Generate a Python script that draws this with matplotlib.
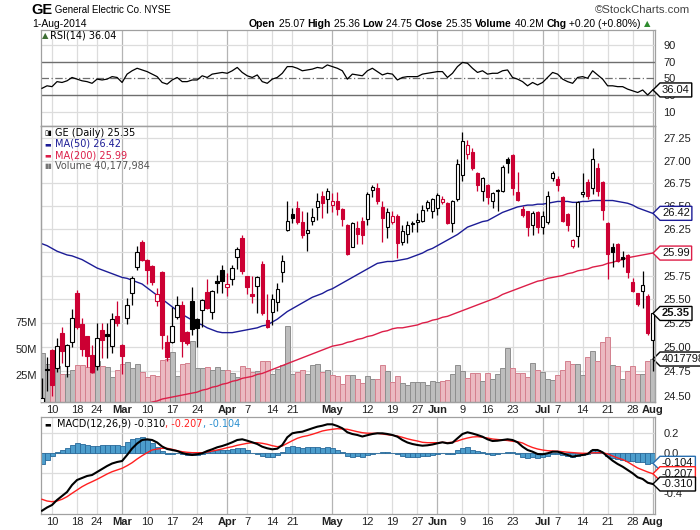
import matplotlib
matplotlib.use('Agg')
import matplotlib.pyplot as plt
import matplotlib.transforms as mtransforms
from matplotlib.path import Path
from matplotlib.ticker import FormatStrFormatter, NullLocator
import numpy as np
import pandas as pd

plt.rcParams['font.family'] = ['Liberation Sans', 'DejaVu Sans']

# trading days on the chart (6-Feb-2014 .. 1-Aug-2014)
holidays = ['2014-02-17', '2014-04-18', '2014-05-26', '2014-07-04']
days = pd.bdate_range('2014-02-06', '2014-08-01')
days = days[~days.isin(pd.to_datetime(holidays))]

opens = [24.30, 24.78, 24.97, 24.79, 25.15, 24.81, 25.05, 25.57, 25.24, 25.11,
         24.92, 24.81, 25.18, 25.14, 25.01, 25.32, 25.02, 25.30, 25.57, 25.84,
         26.11, 25.92, 25.85, 25.48, 25.79, 25.05, 25.05, 25.31, 25.44, 25.16,
         25.48, 25.29, 25.39, 25.58, 25.37, 25.69, 25.81, 25.63, 25.71, 25.95,
         26.15, 25.74, 25.55, 25.64, 25.87, 25.28, 25.37, 25.47, 25.79, 26.24,
         26.41, 26.48, 26.33, 26.21, 26.34, 26.49, 26.61, 26.58, 26.51, 26.56,
         26.47, 26.29, 26.06, 26.26, 26.34, 26.36, 26.68, 26.70, 26.49, 26.27,
         26.33, 26.39, 26.11, 26.20, 26.32, 26.33, 26.34, 26.48, 26.44, 26.48,
         26.54, 26.53, 26.32, 26.58, 26.84, 27.08, 27.10, 26.86, 26.66, 26.73,
         26.56, 26.68, 26.66, 27.02, 27.06, 26.65, 26.47, 26.44, 26.29, 26.43,
         26.27, 26.33, 26.81, 26.80, 26.60, 26.41, 26.07, 26.17, 26.63, 26.76,
         26.70, 26.92, 26.76, 26.32, 26.06, 26.09, 25.95, 25.97, 25.68, 25.56,
         25.59, 25.53, 25.07]
highs = [24.68, 24.90, 24.98, 25.09, 25.21, 25.03, 25.40, 25.60, 25.30, 25.12,
         25.02, 25.25, 25.25, 25.25, 25.35, 25.48, 25.03, 25.51, 25.75, 26.07,
         26.13, 25.93, 25.86, 25.62, 25.80, 25.13, 25.42, 25.53, 25.48, 25.17,
         25.63, 25.30, 25.50, 25.71, 25.60, 25.76, 25.86, 25.78, 25.86, 26.05,
         26.18, 25.75, 25.74, 25.75, 25.90, 25.55, 25.55, 25.67, 25.97, 26.55,
         26.48, 26.55, 26.44, 26.43, 26.48, 26.64, 26.67, 26.70, 26.64, 26.65,
         26.48, 26.30, 26.33, 26.34, 26.38, 26.65, 26.73, 26.75, 26.55, 26.48,
         26.45, 26.41, 26.29, 26.34, 26.34, 26.42, 26.51, 26.57, 26.59, 26.64,
         26.61, 26.54, 26.57, 27.02, 27.32, 27.23, 27.14, 26.87, 26.82, 26.74,
         26.65, 26.69, 26.95, 27.04, 27.08, 26.87, 26.50, 26.45, 26.44, 26.44,
         26.44, 26.66, 26.89, 26.83, 26.61, 26.42, 26.14, 26.55, 26.86, 26.80,
         27.14, 26.97, 26.78, 26.33, 26.10, 26.10, 26.01, 25.98, 25.72, 25.57,
         25.80, 25.55, 25.36]
lows = [24.25, 24.55, 24.50, 24.74, 24.84, 24.69, 25.00, 25.19, 24.91, 24.80,
        24.73, 24.76, 24.89, 24.89, 24.94, 25.22, 24.72, 25.24, 25.44, 25.81,
        25.90, 25.66, 25.65, 25.43, 24.98, 24.86, 25.04, 25.29, 24.90, 25.02,
        25.13, 25.00, 25.21, 25.40, 25.29, 25.57, 25.57, 25.53, 25.65, 25.82,
        25.77, 25.55, 25.46, 25.35, 25.33, 25.20, 25.23, 25.38, 25.68, 26.23,
        26.31, 26.30, 26.15, 26.01, 26.29, 26.35, 26.37, 26.42, 26.43, 26.40,
        26.28, 25.97, 26.05, 26.09, 26.09, 26.29, 26.60, 26.52, 26.11, 26.15,
        26.30, 25.94, 26.08, 26.10, 26.22, 26.22, 26.33, 26.44, 26.37, 26.40,
        26.52, 26.30, 26.22, 26.55, 26.78, 27.02, 26.90, 26.66, 26.55, 26.52,
        26.48, 26.45, 26.65, 26.86, 26.62, 26.55, 26.38, 26.17, 26.18, 26.21,
        26.20, 26.30, 26.77, 26.66, 26.33, 26.23, 26.04, 26.06, 26.60, 26.58,
        26.63, 26.61, 26.35, 25.71, 25.84, 25.89, 25.84, 25.72, 25.58, 25.43,
        25.41, 25.13, 24.75]
closes = [24.48, 24.76, 24.61, 25.01, 24.96, 25.02, 25.30, 25.21, 24.98, 24.91,
          24.74, 25.09, 25.07, 25.11, 25.29, 25.25, 24.91, 25.44, 25.72, 26.00,
          25.92, 25.81, 25.68, 25.55, 25.13, 24.90, 25.22, 25.44, 25.06, 25.04,
          25.19, 25.20, 25.49, 25.41, 25.59, 25.67, 25.69, 25.66, 25.83, 26.03,
          25.80, 25.63, 25.53, 25.73, 25.35, 25.21, 25.50, 25.61, 25.90, 26.34,
          26.37, 26.33, 26.18, 26.24, 26.38, 26.56, 26.53, 26.66, 26.55, 26.47,
          26.36, 25.98, 26.31, 26.20, 26.19, 26.63, 26.71, 26.55, 26.37, 26.43,
          26.39, 26.10, 26.23, 26.29, 26.30, 26.35, 26.46, 26.54, 26.58, 26.62,
          26.58, 26.31, 26.56, 26.96, 27.22, 27.18, 26.92, 26.73, 26.81, 26.60,
          26.64, 26.66, 26.93, 26.98, 26.70, 26.57, 26.40, 26.27, 26.42, 26.27,
          26.39, 26.61, 26.86, 26.73, 26.34, 26.29, 26.13, 26.54, 26.65, 26.61,
          27.02, 26.66, 26.46, 25.98, 26.00, 25.91, 25.93, 25.79, 25.59, 25.45,
          25.65, 25.15, 25.35]
# volume in millions of shares
volumes = [46.0, 35.6, 33.4, 33.4, 26.6, 26.6, 30.3, 34.7, 34.7, 32.8,
           27.2, 38.1, 34.1, 32.8, 23.5, 30.3, 35.9, 37.8, 31.9, 35.9,
           28.2, 23.5, 25.7, 24.7, 39.0, 40.6, 46.9, 24.7, 35.6, 36.6,
           56.8, 32.2, 32.2, 32.8, 30.3, 32.8, 30.3, 29.7, 27.2, 23.5,
           34.1, 31.9, 27.8, 28.7, 38.1, 38.7, 26.6, 31.3, 35.0, 71.5,
           26.3, 27.9, 30.0, 26.3, 35.0, 35.6, 27.9, 30.0, 25.6, 24.1,
           17.0, 25.3, 25.3, 21.6, 17.6, 24.1, 21.6, 21.6, 34.7, 29.4,
           18.9, 24.7, 17.6, 16.0, 19.1, 19.1, 18.4, 16.0, 19.7, 18.4,
           20.0, 21.0, 26.3, 35.0, 29.4, 22.2, 27.2, 27.2, 20.0, 27.2,
           21.6, 26.3, 31.9, 50.6, 31.9, 27.2, 27.2, 23.1, 36.5, 30.3,
           27.9, 21.6, 21.0, 25.4, 30.0, 38.4, 35.6, 35.3, 25.4, 42.4,
           47.4, 38.7, 55.9, 60.3, 35.0, 33.4, 21.6, 29.4, 34.1, 26.3,
           26.3, 38.7, 40.177984]
ma50 = [26.09, 26.07, 26.04, 26.01, 25.99, 25.97, 25.96, 25.94, 25.92, 25.89,
        25.86, 25.83, 25.81, 25.79, 25.77, 25.75, 25.73, 25.72, 25.70, 25.68,
        25.66, 25.62, 25.58, 25.54, 25.50, 25.46, 25.42, 25.38, 25.34, 25.31,
        25.28, 25.25, 25.23, 25.20, 25.18, 25.16, 25.15, 25.15, 25.15, 25.16,
        25.17, 25.18, 25.19, 25.20, 25.22, 25.23, 25.26, 25.29, 25.33, 25.37,
        25.40, 25.43, 25.46, 25.49, 25.52, 25.54, 25.56, 25.59, 25.61, 25.64,
        25.67, 25.70, 25.73, 25.76, 25.79, 25.82, 25.85, 25.88, 25.89, 25.90,
        25.90, 25.91, 25.92, 25.93, 25.95, 25.97, 25.99, 26.02, 26.04, 26.07,
        26.10, 26.13, 26.16, 26.19, 26.23, 26.27, 26.29, 26.31, 26.33, 26.34,
        26.37, 26.40, 26.43, 26.45, 26.47, 26.49, 26.50, 26.51, 26.51, 26.52,
        26.52, 26.53, 26.54, 26.55, 26.55, 26.55, 26.54, 26.54, 26.55, 26.55,
        26.56, 26.56, 26.56, 26.56, 26.56, 26.55, 26.54, 26.53, 26.51, 26.48,
        26.46, 26.44, 26.42]
ma200 = [24.16, 24.17, 24.18, 24.20, 24.21, 24.22, 24.24, 24.25, 24.27, 24.28,
         24.29, 24.31, 24.32, 24.33, 24.35, 24.36, 24.37, 24.38, 24.39, 24.40,
         24.41, 24.42, 24.44, 24.45, 24.47, 24.48, 24.49, 24.50, 24.51, 24.52,
         24.53, 24.54, 24.56, 24.57, 24.59, 24.60, 24.62, 24.63, 24.65, 24.66,
         24.68, 24.69, 24.70, 24.72, 24.73, 24.75, 24.77, 24.79, 24.81, 24.83,
         24.85, 24.87, 24.89, 24.91, 24.93, 24.95, 24.97, 24.99, 25.01, 25.02,
         25.03, 25.05, 25.06, 25.08, 25.09, 25.11, 25.12, 25.14, 25.16, 25.17,
         25.19, 25.20, 25.20, 25.21, 25.22, 25.23, 25.25, 25.26, 25.28, 25.29,
         25.31, 25.32, 25.34, 25.36, 25.38, 25.40, 25.42, 25.44, 25.46, 25.48,
         25.50, 25.52, 25.55, 25.57, 25.59, 25.61, 25.63, 25.65, 25.67, 25.69,
         25.70, 25.72, 25.73, 25.74, 25.75, 25.77, 25.78, 25.80, 25.81, 25.82,
         25.84, 25.85, 25.86, 25.88, 25.89, 25.91, 25.92, 25.94, 25.95, 25.96,
         25.97, 25.98, 25.99]
rsi = [38, 41, 40, 46, 45, 47, 51, 49, 47, 46,
       44, 49, 48, 49, 52, 51, 45, 55, 59, 62,
       60, 58, 55, 52, 45, 43, 48, 51, 46, 46,
       48, 48, 53, 51, 55, 56, 57, 56, 59, 63,
       57, 53, 51, 54, 46, 44, 49, 51, 56, 64,
       64, 62, 59, 60, 61, 63, 62, 66, 64, 62,
       59, 49, 55, 54, 53, 59, 62, 58, 54, 56,
       55, 48, 51, 52, 52, 52, 55, 56, 57, 58,
       58, 51, 56, 64, 69, 68, 62, 57, 59, 55,
       56, 56, 59, 60, 51, 49, 46, 41, 45, 42,
       45, 51, 57, 55, 49, 46, 44, 51, 52, 50,
       59, 54, 49, 41, 41, 40, 40, 37, 35, 33,
       36, 30, 36.04]
macd = [-0.577, -0.545, -0.52, -0.47, -0.43, -0.39, -0.32, -0.27, -0.25, -0.23,
        -0.22, -0.19, -0.16, -0.13, -0.105, -0.09, -0.08, -0.02, 0.045, 0.095,
        0.13, 0.137, 0.13, 0.105, 0.065, 0.04, 0.03, 0.02, 0.0, -0.012,
        -0.02, -0.013, -0.003, 0.02, 0.037, 0.057, 0.07, 0.087, 0.107, 0.13,
        0.137, 0.123, 0.107, 0.09, 0.063, 0.047, 0.037, 0.043, 0.08, 0.157,
        0.197, 0.207, 0.213, 0.23, 0.247, 0.263, 0.273, 0.287, 0.287, 0.27,
        0.247, 0.207, 0.19, 0.18, 0.165, 0.178, 0.19, 0.197, 0.197, 0.19,
        0.18, 0.163, 0.13, 0.105, 0.09, 0.08, 0.073, 0.077, 0.085, 0.097,
        0.107, 0.097, 0.103, 0.147, 0.19, 0.207, 0.195, 0.18, 0.163, 0.137,
        0.12, 0.123, 0.13, 0.137, 0.13, 0.107, 0.063, 0.03, 0.013, -0.01,
        -0.013, -0.003, 0.013, 0.013, -0.003, -0.02, -0.037, -0.027, -0.02, -0.01,
        0.03, 0.03, 0.007, -0.037, -0.077, -0.11, -0.137, -0.17, -0.203, -0.243,
        -0.26, -0.297, -0.310]
signal = [-0.463, -0.48, -0.487, -0.48, -0.463, -0.437, -0.403, -0.37, -0.337, -0.31,
          -0.287, -0.263, -0.237, -0.21, -0.187, -0.17, -0.153, -0.127, -0.097, -0.06,
          -0.027, 0.003, 0.03, 0.04, 0.047, 0.047, 0.037, 0.023, 0.013, 0.007,
          0.003, 0.003, 0.003, 0.01, 0.02, 0.03, 0.04, 0.053, 0.063, 0.077,
          0.087, 0.097, 0.103, 0.103, 0.097, 0.087, 0.073, 0.063, 0.07, 0.097,
          0.123, 0.147, 0.163, 0.173, 0.187, 0.203, 0.22, 0.23, 0.237, 0.243,
          0.24, 0.237, 0.225, 0.213, 0.203, 0.198, 0.197, 0.197, 0.19, 0.183,
          0.177, 0.17, 0.157, 0.142, 0.13, 0.12, 0.107, 0.103, 0.103, 0.103,
          0.107, 0.103, 0.108, 0.12, 0.137, 0.15, 0.16, 0.163, 0.157, 0.15,
          0.14, 0.135, 0.13, 0.125, 0.117, 0.113, 0.1, 0.075, 0.055, 0.04,
          0.03, 0.023, 0.02, 0.018, 0.013, 0.008, 0.004, 0.0, -0.003, -0.003,
          0.002, 0.003, 0.003, -0.01, -0.03, -0.05, -0.065, -0.09, -0.12, -0.15,
          -0.17, -0.19, -0.207]

tick_days = ['2014-02-10', '2014-02-18', '2014-02-24', '2014-03-03', '2014-03-10',
             '2014-03-17', '2014-03-24', '2014-04-01', '2014-04-07', '2014-04-14',
             '2014-04-21', '2014-05-01', '2014-05-12', '2014-05-19', '2014-05-27',
             '2014-06-02', '2014-06-09', '2014-06-16', '2014-06-23', '2014-07-01',
             '2014-07-07', '2014-07-14', '2014-07-21', '2014-07-28', '2014-08-01']
tick_labels = ['10', '18', '24', 'Mar', '10', '17', '24', 'Apr', '7', '14', '21',
               'May', '12', '19', '27', 'Jun', '9', '16', '23', 'Jul', '7', '14',
               '21', '28', 'Aug']
months = ['Mar', 'Apr', 'May', 'Jun', 'Jul', 'Aug']
price_ticks = [24.50, 24.75, 25.00, 25.25, 25.50, 25.75, 26.00, 26.25, 26.50,
               26.75, 27.00, 27.25]
vol_ticks = [25, 50, 75]
rsi_ticks = [10, 30, 50, 70, 90]
macd_ticks = [-0.4, -0.2, 0.0, 0.2]

assert len(days) == len(closes) == len(volumes) == len(rsi) == len(macd)

RED = '#cc0033'
NAVY = '#1c1c96'
CRIMSON = '#dc1e48'
GRID = '#dcdcdc'
GRID_M = '#b4b4b4'
SPINE = '#a0a0a0'

W, H = 700, 530


def box(x0, y0, x1, y1):
    return [x0 / W, 1 - y1 / H, (x1 - x0) / W, (y1 - y0) / H]


def tag_box(x0, y0, width, height, mutation_size):
    pad = 0.18 * mutation_size
    x0, y0 = x0 - pad, y0 - pad
    x1, y1 = x0 + width + 2 * pad, y0 + height + 2 * pad
    tip = (y1 - y0) / 2
    return Path([(x0 - tip, y0 + tip), (x0, y1), (x1, y1), (x1, y0), (x0, y0),
                 (x0 - tip, y0 + tip)],
                [Path.MOVETO, Path.LINETO, Path.LINETO, Path.LINETO, Path.LINETO,
                 Path.CLOSEPOLY])


o = np.array(opens)
h = np.array(highs)
l = np.array(lows)
c = np.array(closes)
x = np.arange(len(c))
prev = np.r_[-np.inf, c[:-1]]
up = c >= prev
col = np.where(up, 'black', RED)
face = np.where(c > o, 'white', col)
hist = np.array(macd) - np.array(signal)
tick_pos = [days.get_loc(pd.Timestamp(d)) for d in tick_days]

fig = plt.figure(figsize=(7, 5.3), dpi=100)
ax_rsi = fig.add_axes(box(41, 30, 655, 126))
ax = fig.add_axes(box(41, 126, 655, 402), sharex=ax_rsi)
ax_macd = fig.add_axes(box(41, 417, 655, 514), sharex=ax_rsi)
ax_v = ax.twinx()
ax_v.set_zorder(1)
ax.set_zorder(2)
ax.patch.set_visible(False)
ax_v.patch.set_visible(True)
ax_v.patch.set_facecolor('white')
ax.yaxis.tick_right()
ax_v.yaxis.tick_left()

ax_rsi.set_xlim(-0.2, 122.46)

# vertical grid
for a in (ax_rsi, ax_v, ax_macd):
    for p, lab in zip(tick_pos, tick_labels):
        a.axvline(p, color=GRID_M if lab in months else GRID, lw=0.9, zorder=0)

# price panel
ax.set_yscale('log')
ax.set_ylim(24.44, 27.39)
ax.set_yticks(price_ticks)
ax.yaxis.set_major_formatter(FormatStrFormatter('%.2f'))
ax.yaxis.set_minor_locator(NullLocator())
trans_grid = mtransforms.blended_transform_factory(ax_v.transAxes, ax.transData)
for p in price_ticks:
    ax_v.plot([0, 1], [p, p], color=GRID, lw=0.9, transform=trans_grid, zorder=0)

ax_v.set_ylim(0, 258)
ax_v.set_yticks(vol_ticks)
ax_v.set_yticklabels([f'{v}M' for v in vol_ticks])
ax_v.bar(x, volumes, width=1.0, color=np.where(up, '#bdbdbd', '#ebb9c1'),
         edgecolor=np.where(up, '#8e8e8e', '#d4808e'), lw=0.7, zorder=2)

ax.plot(x, ma50, color=NAVY, lw=1.0, zorder=2)
ax.plot(x, ma200, color=CRIMSON, lw=1.0, zorder=2)
ax.vlines(x, l, h, colors=col, lw=0.9, zorder=3)
ax.bar(x, np.maximum(np.abs(c - o), 0.012), bottom=np.minimum(o, c), width=0.7,
       color=face, edgecolor=col, lw=0.8, zorder=4)

# RSI panel
ax_rsi.plot(x, rsi, color='black', lw=0.9, zorder=3)
ax_rsi.set_ylim(-7.1, 107.8)
ax_rsi.set_yticks(rsi_ticks)
for v in (10, 90):
    ax_rsi.axhline(v, color=GRID, lw=0.9, zorder=0)
for v in (30, 70):
    ax_rsi.axhline(v, color='#6e6e6e', lw=1.0, zorder=1)
ax_rsi.axhline(50, color='#6e6e6e', lw=0.9, ls=(0, (6, 2, 1, 2)), zorder=1)
ax_rsi.yaxis.tick_right()

# MACD panel
for v in macd_ticks:
    ax_macd.axhline(v, color=GRID, lw=0.9, zorder=0)
ax_macd.bar(x, hist, width=1.0, color='#4c9dcc', edgecolor='#28699a', lw=0.6, zorder=2)
ax_macd.plot(x, signal, color='#ff1f1f', lw=1.0, zorder=3)
ax_macd.plot(x, macd, color='black', lw=1.5, zorder=4)
ax_macd.set_ylim(-0.61, 0.36)
ax_macd.set_yticks(macd_ticks)
ax_macd.yaxis.set_major_formatter(FormatStrFormatter('%.1f'))
ax_macd.yaxis.tick_right()

for a in (ax_rsi, ax, ax_macd, ax_v):
    for s in a.spines.values():
        s.set_color(SPINE)
        s.set_linewidth(0.9)
    a.tick_params(axis='both', length=0, labelsize=8, colors='#222')
    a.tick_params(axis='y', pad=6)
ax_v.tick_params(axis='y', pad=3)
ax_rsi.tick_params(axis='x', labelbottom=False)
for a in (ax, ax_macd):
    a.set_xticks(tick_pos)
    a.set_xticklabels(tick_labels)
    a.tick_params(axis='x', pad=2)
    for t in a.get_xticklabels():
        if t.get_text() in months:
            t.set_fontweight('bold')


def tag(a, y, s, edge, weight='normal'):
    tr = mtransforms.blended_transform_factory(a.transAxes, a.transData)
    tr = mtransforms.offset_copy(tr, fig=fig, x=7, y=0, units='dots')
    a.text(1.0, y, s, transform=tr, ha='left', va='center', fontsize=8,
           fontweight=weight, color='#111', clip_on=False, zorder=10,
           bbox=dict(boxstyle=tag_box, fc='white', ec=edge, lw=1.0))


tag(ax_rsi, rsi[-1], '36.04', 'black')
tag(ax, ma50[-1], '26.42', NAVY)
tag(ax, ma200[-1], '25.99', CRIMSON)
tag(ax, closes[-1], '25.35', 'black', 'bold')
tag(ax_v, volumes[-1], '40177984', 'black')
tag(ax_macd, hist[-1], '-0.104', '#2a6fb0')
tag(ax_macd, signal[-1], '-0.207', '#ff1f1f')
tag(ax_macd, macd[-1], '-0.310', 'black')

renderer = fig.canvas.get_renderer()


def chain(x0, y0, pieces, size, family=None):
    xx = x0
    for s, kw in pieces:
        kw = dict(kw)
        kw.setdefault('fontsize', size)
        if family:
            kw.setdefault('family', family)
        t = fig.text(xx / W, 1 - y0 / H, s, ha='left', va='center', **kw)
        xx += t.get_window_extent(renderer).width
    return xx


# header
B = {'fontweight': 'bold'}
N = {}
chain(31, 10, [('GE', {'fontweight': 'bold', 'fontsize': 10.5}),
               (' General Electric Co. NYSE', {'fontsize': 7})], 7)
fig.text(32 / W, 1 - 24 / H, '1-Aug-2014', fontsize=7.5, va='center', ha='left')
fig.text(690 / W, 1 - 10 / H, '\u00a9StockCharts.com', fontsize=8.2,
         color='#444', va='center', ha='right')
end = chain(249, 24, [('Open', B), (' 25.07 ', N), ('High', B), (' 25.36 ', N),
                      ('Low', B), (' 24.75 ', N), ('Close', B), (' 25.35 ', N),
                      ('Volume', B), (' 40.2M ', N), ('Chg', B),
                      (' +0.20 (+0.80%) ', N)], 7.5)
fig.text(end / W, 1 - 24 / H, '\u25b2', fontsize=6, color='#2e8b2e',
         va='center', ha='left', family='DejaVu Sans')

# panel legends
dv = 'DejaVu Sans'
fig.text(42 / W, 1 - 36 / H, '\u25b2', fontsize=6, color='#3d6e34', family=dv,
         va='center', ha='left')
fig.text(50 / W, 1 - 36 / H, 'RSI(14) 36.04', fontsize=7, family=dv,
         va='center', ha='left')
legend_rows = [(133, '\u25af\u25ae', 'black', 'black', 'GE (Daily) 25.35'),
               (144, '\u25ac', NAVY, NAVY, 'MA(50) 26.42'),
               (155, '\u25ac', CRIMSON, CRIMSON, 'MA(200) 25.99'),
               (166, '\u25ae\u25ae', '#777', '#555', 'Volume 40,177,984')]
for yy, icon, ic, tc, s in legend_rows:
    fig.text(44 / W, 1 - yy / H, icon, fontsize=5, color=ic, family=dv,
             va='center', ha='left')
    fig.text(55 / W, 1 - yy / H, s, fontsize=7, color=tc, family=dv,
             va='center', ha='left')

fig.text(44 / W, 1 - 424 / H, '\u25ac', fontsize=5, color='black', family=dv,
         va='center', ha='left')
chain(57, 424, [('MACD(12,26,9) -0.310', {'color': 'black'}),
                (', -0.207', {'color': '#ff1f1f'}),
                (', -0.104', {'color': '#2a8fd0'})], 7, family=dv)

fig.savefig('out.png', dpi=100)
